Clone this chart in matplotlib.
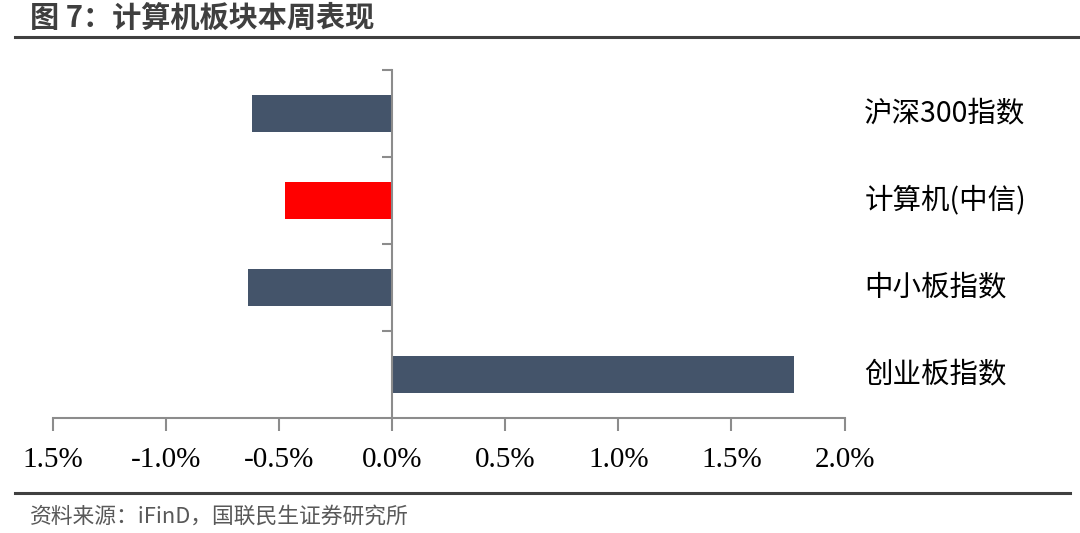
import numpy as np
import matplotlib.pyplot as plt
from matplotlib import transforms

plt.rcParams['font.family'] = ['Noto Sans CJK SC', 'DejaVu Sans']

# data (weekly change, %)
categories = ["沪深300指数", "计算机(中信)", "中小板指数", "创业板指数"]
values = [-0.618, -0.476, -0.637, 1.776]
bar_colors = ["#44546A", "#FF0000", "#44546A", "#44546A"]
xticks = [-1.5, -1.0, -0.5, 0.0, 0.5, 1.0, 1.5, 2.0]
xtick_labels = ["1.5%", "-1.0%", "-0.5%", "0.0%", "0.5%", "1.0%", "1.5%", "2.0%"]

fig = plt.figure(figsize=(10.8, 5.33), dpi=100)
ax = fig.add_axes([0.049, 0.216, 0.733, 0.653])

y = np.arange(len(categories))
ax.barh(y, values, height=0.43, color=bar_colors, zorder=2)

ax.set_xlim(-1.5, 2.0)
ax.set_ylim(3.5, -0.5)

axis_grey = "#8c8c8c"
for s in ["top", "right"]:
    ax.spines[s].set_visible(False)
ax.spines["left"].set_position(("data", 0))
ax.spines["left"].set_color(axis_grey)
ax.spines["bottom"].set_color(axis_grey)
ax.spines["left"].set_linewidth(1.5)
ax.spines["bottom"].set_linewidth(1.5)

ax.set_xticks(xticks)
ax.set_xticklabels(xtick_labels, family="Liberation Serif", fontsize=21)
ax.tick_params(axis="x", direction="out", length=9, width=1.5, color=axis_grey,
               pad=12, labelcolor="#000000")

ax.set_yticks([-0.5, 0.5, 1.5, 2.5])
ax.set_yticklabels([])
ax.tick_params(axis="y", direction="out", length=7, width=1.5, color=axis_grey)

# category names on the right side
trans = transforms.blended_transform_factory(ax.transAxes, ax.transData)
for yi, name in zip(y, categories):
    ax.text(1.025, yi, name, transform=trans, ha="left", va="center",
            fontsize=20.5, color="#000000",
            family=["Noto Sans CJK SC", "Liberation Serif"])

# title and source
fig.text(30 / 1080, 1 - 18 / 533, "图 7：计算机板块本周表现", fontsize=21,
         fontweight="bold", color="#3f3f3f", ha="left", va="center")
fig.add_artist(plt.Line2D([15 / 1080, 1.0], [1 - 37 / 533] * 2,
                          color="#404040", lw=2.2))
fig.add_artist(plt.Line2D([15 / 1080, 1070 / 1080], [1 - 493 / 533] * 2,
                          color="#404040", lw=2.2))
fig.text(30 / 1080, 1 - 517 / 533, "资料来源：iFinD，国联民生证券研究所",
         fontsize=15.7, color="#595959", ha="left", va="center")

fig.savefig("out.png", dpi=100)
